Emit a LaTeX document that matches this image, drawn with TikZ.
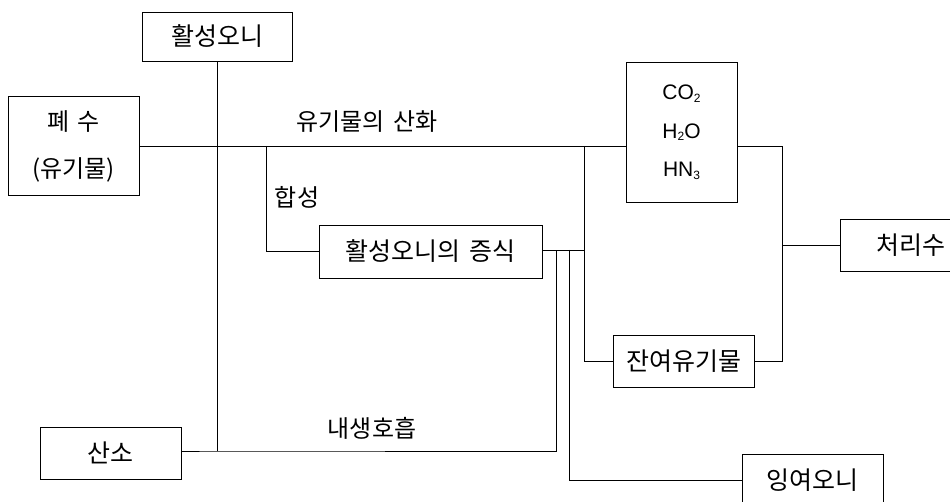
\documentclass[tikz,border=0pt]{standalone}
\usepackage{fontspec}
\setmainfont{Noto Sans CJK KR}[WordSpace=1.6]
\newfontfamily\latsans{Liberation Sans}
\newcommand{\lowsub}[1]{\raisebox{-0.12em}{\fontsize{12}{12}\selectfont #1}}
\begin{document}
\begin{tikzpicture}[x=1pt,y=-1pt,
  box/.style={draw, line width=0.9pt, inner sep=0pt, align=center, font=\fontsize{25}{30}\selectfont},
  lbl/.style={inner sep=0pt, font=\fontsize{24}{28}\selectfont},
  conn/.style={line width=0.9pt}]
\useasboundingbox (0,0) rectangle (950,502);
\clip (0,0) rectangle (950,502);
% boxes
\node[box, minimum width=150, minimum height=49] (sludge) at (217,36.5) {활성오니};
\node[box, minimum width=131, minimum height=99, font=\fontsize{24}{47}\selectfont] (waste) at (73.5,146) {폐 수\\(유기물)};
\node[box, minimum width=141, minimum height=52] (oxygen) at (110.5,453) {산소};
\node[box, minimum width=223, minimum height=53] (growth) at (430.5,251.5) {활성오니의 증식};
\node[box, minimum width=111, minimum height=140, font=\fontsize{21}{38.5}\selectfont\latsans] (prod) at (681.5,132) {CO\lowsub{2}\\H\lowsub{2}O\\HN\lowsub{3}};
\node[box, minimum width=141, minimum height=52] (treated) at (911,245) {처리수};
\node[box, minimum width=141, minimum height=52] (residual) at (683.5,361) {잔여유기물};
\node[box, minimum width=141, minimum height=52] (excess) at (812.5,480) {잉여오니};
% labels
\node[lbl] (lox) at (367,122) {유기물의 산화};
\node[lbl] (lsyn) at (297,197) {합성};
\node[lbl] (lresp) at (372,428) {내생호흡};
% junction coordinates
\coordinate (j1) at (217,146);
\coordinate (j2) at (266,146);
\coordinate (j3) at (584,146);
\coordinate (j4) at (217,451);
\coordinate (j5) at (556,250);
\coordinate (j6) at (569,250);
\coordinate (j7) at (584,250);
\coordinate (j8) at (782,146);
\coordinate (j9) at (782,245);
% connectors
\draw[conn] (waste.east) -- (waste.east -| prod.west);
\draw[conn] (sludge.south) -- (j4);
\draw[conn] (oxygen.east |- j4) -- (j4) -| (j5);
\draw[conn] (j2) |- (growth.west);
\draw[conn] (growth.east |- j7) -- (j7);
\draw[conn] (j3) |- (residual.west);
\draw[conn] (j6) |- (excess.west);
\draw[conn] (prod.east |- j8) -- (j8) |- (residual.east);
\draw[conn] (j9) -- (treated.west);
\end{tikzpicture}
\end{document}
